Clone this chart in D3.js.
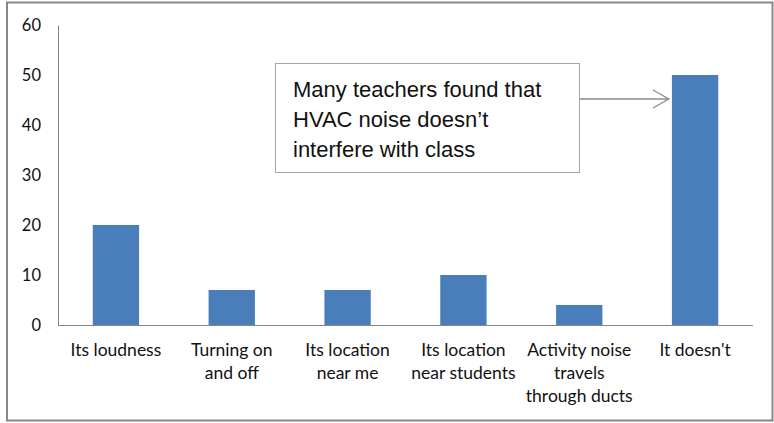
<!DOCTYPE html>
<html>
<head>
<meta charset="utf-8">
<script src="https://d3js.org/d3.v7.min.js"></script>
<style>
  body { margin: 0; background: #fff; }
  svg { display: block; }
</style>
</head>
<body>
<div id="chart"></div>
<script>
// Chart data
const categories = ["Its loudness", "Turning on and off", "Its location near me",
                    "Its location near students", "Activity noise travels through ducts", "It doesn't"];
const labelLines = [["Its loudness"], ["Turning on", "and off"], ["Its location", "near me"],
                    ["Its location", "near students"], ["Activity noise", "travels", "through ducts"], ["It doesn't"]];
const values = [20, 7, 7, 10, 4, 50];
const yTicks = [0, 10, 20, 30, 40, 50, 60];
const noteLines = ["Many teachers found that", "HVAC noise doesn\u2019t", "interfere with class"];

const width = 774, height = 423;

const svg = d3.select("#chart").append("svg")
    .attr("width", width)
    .attr("height", height);

// outer frame
svg.append("rect")
    .attr("x", 7).attr("y", 2.5)
    .attr("width", 765.5).attr("height", 418)
    .attr("fill", "#fff")
    .attr("stroke", "#878787")
    .attr("stroke-width", 2);

const x = d3.scaleBand()
    .domain(categories)
    .range([58, 753])
    .paddingInner(0.6)
    .paddingOuter(0.3);

const y = d3.scaleLinear()
    .domain([0, 60])
    .range([325, 25]);

// y axis
const yAxis = svg.append("g")
    .attr("transform", "translate(58,0)")
    .call(d3.axisLeft(y).tickValues(yTicks).tickSize(0).tickPadding(17));
yAxis.select(".domain").attr("stroke", "#868686").attr("stroke-width", 1);
yAxis.selectAll("text")
    .attr("font-family", "Lato, sans-serif")
    .attr("font-size", 16.5)
    .attr("fill", "#111");

// bars
svg.selectAll("rect.bar")
    .data(values)
    .join("rect")
    .attr("class", "bar")
    .attr("x", (d, i) => x(categories[i]))
    .attr("y", d => y(d))
    .attr("width", x.bandwidth())
    .attr("height", d => y(0) - y(d))
    .attr("fill", "#4a7ebb");

// x axis line
svg.append("line")
    .attr("x1", 58).attr("x2", 753)
    .attr("y1", y(0) + 0.5).attr("y2", y(0) + 0.5)
    .attr("stroke", "#868686");

// category labels
const labels = svg.selectAll("text.cat")
    .data(categories)
    .join("text")
    .attr("class", "cat")
    .attr("text-anchor", "middle")
    .attr("font-family", "Lato, sans-serif")
    .attr("font-size", 17.5)
    .attr("fill", "#111")
    .attr("x", d => x(d) + x.bandwidth() / 2)
    .attr("y", 356);

labels.selectAll("tspan")
    .data((d, i) => labelLines[i])
    .join("tspan")
    .attr("x", function() { return this.parentNode.getAttribute("x"); })
    .attr("dy", (d, j) => j === 0 ? 0 : 23)
    .text(d => d);

// annotation box
svg.append("rect")
    .attr("x", 275.5).attr("y", 63.5)
    .attr("width", 304).attr("height", 109)
    .attr("fill", "#fff")
    .attr("stroke", "#a6a6a6");

svg.append("text")
    .attr("font-family", "'Liberation Sans', Arial, sans-serif")
    .attr("font-size", 22)
    .attr("fill", "#111")
    .selectAll("tspan")
    .data(noteLines)
    .join("tspan")
    .attr("x", 293)
    .attr("y", (d, i) => 97 + i * 30)
    .text(d => d);

// arrow pointing at "It doesn't"
const tipX = x(categories[5]) - 3;
const tipY = 99;
svg.append("line")
    .attr("x1", 580).attr("x2", tipX)
    .attr("y1", tipY).attr("y2", tipY)
    .attr("stroke", "#8c8c8c").attr("stroke-width", 1.3);
svg.append("path")
    .attr("d", `M${tipX - 16},${tipY - 9} L${tipX},${tipY} L${tipX - 16},${tipY + 9}`)
    .attr("fill", "none")
    .attr("stroke", "#8c8c8c").attr("stroke-width", 1.3);
</script>
</body>
</html>
